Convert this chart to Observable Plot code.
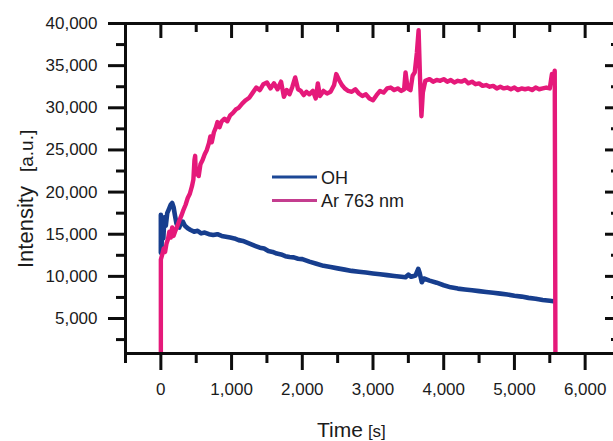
<!DOCTYPE html>
<html><head><meta charset="utf-8">
<script src="https://cdn.jsdelivr.net/npm/d3@7"></script>
<script src="https://cdn.jsdelivr.net/npm/@observablehq/plot@0.6"></script>
<style>
html,body{margin:0;padding:0;background:#fff;overflow:hidden;}
svg{overflow:hidden;}
</style></head><body><div id="chart"></div>
<script>
const seriesNames = ["OH", "Ar 763 nm"];
const seriesColors = ["#173e8e", "#e5197a"];
const legendColors = ["#1c4896", "#c43d8f"];

const ohTime = [0,0,10,20,35,50,70,90,110,140,160,180,200,220,240,260,280,310,340,380,420,470,520,570,620,680,740,800,860,920,980,1040,1100,1160,1220,1280,1340,1400,1460,1520,1580,1640,1700,1760,1820,1880,1940,2000,2100,2200,2300,2400,2500,2600,2700,2800,2900,3000,3100,3200,3300,3400,3460,3500,3540,3600,3640,3660,3690,3720,3800,3900,4000,4100,4200,4300,4400,4500,4600,4700,4800,4900,5000,5100,5200,5300,5400,5500,5550];
const ohValue = [12800,17300,13500,16800,14500,17000,16000,17500,17900,18500,18700,18200,17200,16300,15900,15800,16200,16500,16000,15700,15500,15300,15400,15100,15200,15000,14900,15000,14800,14700,14600,14500,14300,14200,14000,13800,13600,13400,13300,13000,12900,12700,12600,12400,12300,12250,12100,12050,11750,11500,11250,11100,10950,10800,10650,10550,10450,10350,10250,10150,10050,9950,9900,10200,9950,10100,10900,10400,9300,9750,9500,9250,8950,8700,8550,8450,8350,8250,8150,8050,7950,7850,7700,7600,7450,7350,7200,7100,7050];

const arTime = [0,0,20,40,60,80,100,120,140,160,180,200,230,260,290,320,350,380,410,440,460,475,485,495,515,535,560,590,620,650,680,700,720,750,780,800,830,860,900,940,980,1020,1060,1100,1150,1200,1250,1300,1350,1400,1450,1500,1550,1600,1650,1700,1740,1780,1820,1860,1900,1940,1980,2020,2060,2100,2150,2190,2220,2250,2300,2350,2400,2450,2480,2520,2560,2600,2650,2700,2750,2800,2850,2900,2950,3000,3050,3100,3150,3200,3250,3300,3350,3400,3440,3460,3490,3530,3560,3590,3620,3645,3665,3685,3705,3740,3800,3850,3900,3950,4000,4050,4100,4150,4200,4250,4300,4350,4400,4450,4500,4550,4600,4650,4700,4750,4800,4850,4900,4950,5000,5050,5100,5150,5200,5250,5300,5350,5400,5450,5500,5530,5550,5570,5580];
const arValue = [0,12000,12600,13300,12900,13900,14400,15300,14600,15800,14800,15300,15900,16600,17200,17900,18500,19300,19800,20700,21500,23800,24300,22100,22700,21900,23300,23800,24500,25000,25800,26600,25900,27100,27700,28300,27700,28400,28700,28400,29100,29400,29800,30000,30500,30900,31200,31800,32400,32100,32800,33000,32300,32900,32200,33100,31300,32100,31600,32500,33600,32200,32000,31500,31900,31600,32000,31100,32900,31400,32000,31700,31900,32700,34000,33300,32700,32300,32000,31900,32200,31700,31400,31600,31100,30900,31500,32000,31800,32300,32400,32100,32300,32000,32200,34200,32300,32100,33800,34200,36500,39200,33500,29000,31800,33200,33400,33100,33300,33200,33400,33100,33300,33000,33200,33100,33300,32900,33100,32800,32900,32600,32700,32500,32600,32300,32500,32300,32400,32200,32400,32100,32300,32200,32300,32100,32400,32200,32300,32400,32300,34000,33400,34400,0];

const xMajorTicks = [0,1000,2000,3000,4000,5000,6000];
const xMinorTicks = [-500,500,1500,2500,3500,4500,5500,6500];
const yMajorTicks = [5000,10000,15000,20000,25000,30000,35000,40000];
const yMinorTicks = [2500,7500,12500,17500,22500,27500,32500,37500];
const xDomain = [-500, 6500];
const yDomain = [850, 40000];

const ohData = ohTime.map((t, i) => ({t, v: ohValue[i]}));
const arData = arTime.map((t, i) => ({t, v: arValue[i]}));

const W = 613, H = 441;
const mL = 125, mR = -7, mT = 23, mB = 88;
const frameW = W - mR - mL, frameH = H - mT - mB;
const ink = "#1b1b1b";
const axisInk = "#0d0d0d";
const axisW = 3;
const font = "'Liberation Sans', Arial, Helvetica, sans-serif";
const fmt = d3.format(",");

const chart = Plot.plot({
  width: W, height: H,
  marginLeft: mL, marginRight: mR, marginTop: mT, marginBottom: mB,
  style: {fontFamily: font, background: "#fff", color: ink, overflow: "hidden"},
  x: {domain: xDomain},
  y: {domain: yDomain},
  marks: [
    Plot.line(ohData, {x: "t", y: "v", stroke: seriesColors[0], strokeWidth: 4.6, clip: true}),
    Plot.line(arData, {x: "t", y: "v", stroke: seriesColors[1], strokeWidth: 4.4, clip: true}),
    Plot.ruleX([xDomain[0]], {stroke: axisInk, strokeWidth: axisW}),
    Plot.ruleY([yDomain[0], yDomain[1]], {stroke: axisInk, strokeWidth: axisW}),
    Plot.axisY({ticks: yMajorTicks, anchor: "left", tickSize: 17, tickPadding: 11, tickFormat: fmt, fontSize: 17, strokeWidth: axisW, stroke: axisInk, fill: ink, label: null}),
    Plot.axisY({ticks: yMinorTicks, anchor: "left", tickSize: 9, tickFormat: () => "", strokeWidth: axisW, stroke: axisInk, label: null}),
    Plot.axisX({ticks: xMajorTicks, anchor: "bottom", tickSize: 17, tickPadding: 12, tickFormat: fmt, fontSize: 17, strokeWidth: axisW, stroke: axisInk, fill: ink, label: null}),
    Plot.axisX({ticks: xMinorTicks, anchor: "bottom", tickSize: 10, tickFormat: () => "", strokeWidth: axisW, stroke: axisInk, label: null}),
    Plot.tickX(xMajorTicks, {x: d => d, stroke: axisInk, strokeWidth: axisW, insetBottom: frameH - 15}),
    Plot.tickX(xMinorTicks, {x: d => d, stroke: axisInk, strokeWidth: axisW, insetBottom: frameH - 9}),
    Plot.tickY(yMajorTicks, {y: d => d, stroke: axisInk, strokeWidth: axisW, insetLeft: frameW - 15}),
    Plot.tickY(yMinorTicks, {y: d => d, stroke: axisInk, strokeWidth: axisW, insetLeft: frameW - 9})
  ]
});
document.getElementById("chart").appendChild(chart);

const svg = d3.select(chart);
// y axis label
const yl = svg.append("text")
  .attr("transform", "translate(33,268) rotate(-90)")
  .attr("text-anchor", "start")
  .attr("font-family", font).attr("fill", ink);
yl.append("tspan").attr("font-size", 22).text("Intensity");
yl.append("tspan").attr("font-size", 19).attr("dx", 14).text("[a.u.]");
// x axis label
const xl = svg.append("text")
  .attr("x", 317).attr("y", 437)
  .attr("text-anchor", "start")
  .attr("font-family", font).attr("fill", ink);
xl.append("tspan").attr("font-size", 21).text("Time");
xl.append("tspan").attr("font-size", 17).attr("dx", 5).text("[s]");
// legend
const lg = svg.append("g");
seriesNames.forEach((name, i) => {
  const cy = 177 + i * 23.5;
  lg.append("line").attr("x1", 272).attr("x2", 317).attr("y1", cy).attr("y2", cy)
    .attr("stroke", legendColors[i]).attr("stroke-width", 3);
  lg.append("text").attr("x", 321).attr("y", cy + 6.5)
    .attr("text-anchor", "start")
    .attr("font-family", font).attr("font-size", 18).attr("fill", ink).text(name);
});
</script></body></html>
